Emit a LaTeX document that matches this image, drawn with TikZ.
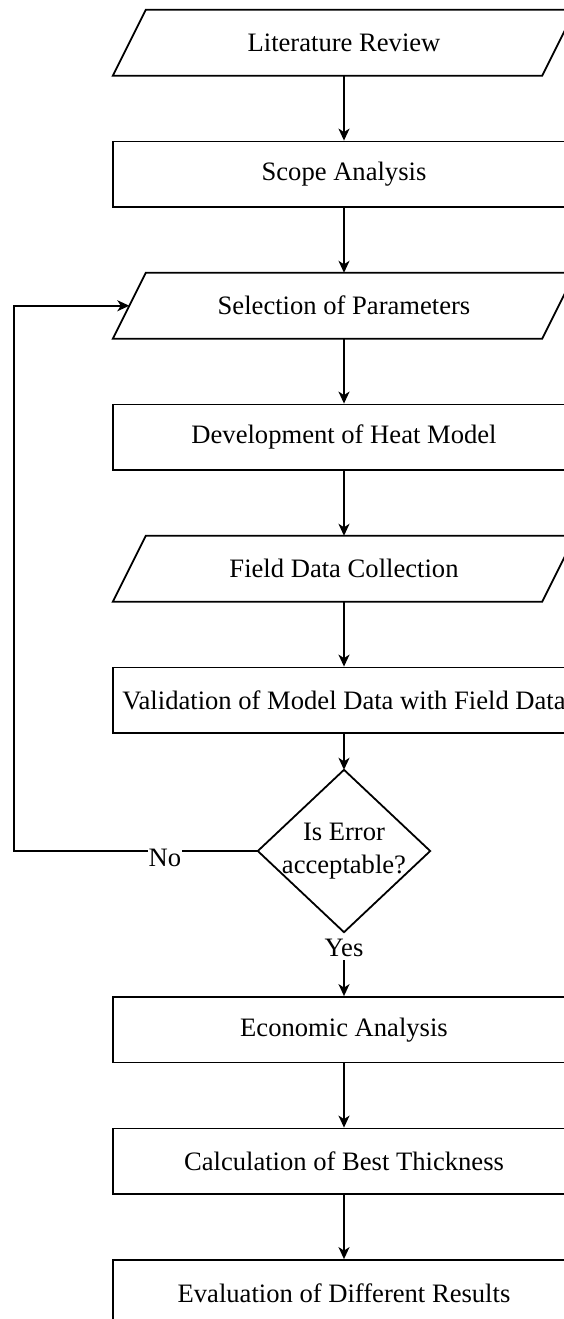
\documentclass[tikz,border=0pt]{standalone}
\usepackage{fontspec}
\setmainfont{Liberation Serif}
\usetikzlibrary{arrows.meta,calc}
\begin{document}
\begin{tikzpicture}[x=1pt,y=-1pt,
  txt/.style={font=\fontsize{26.6}{33}\selectfont},
  procbox/.style={txt,draw,line width=1.8pt,minimum width=462pt,minimum height=65.5pt,inner sep=0pt},
  iobox/.style={txt,minimum width=462pt,minimum height=65.5pt,inner sep=0pt},
  decbox/.style={txt,align=center,minimum width=172pt,minimum height=162pt,inner sep=0pt},
  shapeline/.style={line width=1.8pt,line join=miter},
  conn/.style={line width=1.8pt,-{Stealth[length=12pt,width=11pt,inset=3.5pt]}},
  lbl/.style={txt,fill=white,inner sep=1pt}
]
\useasboundingbox (0,0) rectangle (564,1319);
\clip (0,0) rectangle (564,1319);

\node[iobox]   (lit)   at (344,42.75)  {Literature Review};
\node[procbox] (scope) at (344,174.25) {Scope Analysis};
\node[iobox]   (sel)   at (344,305.75) {Selection of Parameters};
\node[procbox] (dev)   at (344,437.25) {Development of Heat Model};
\node[iobox]   (field) at (344,568.75) {Field Data Collection};
\node[procbox] (val)   at (344,700.25) {Validation of Model Data with Field Data};
\node[decbox]  (dec)   at (344,851)    {Is Error\\acceptable?};
\node[txt,inner sep=3pt] (yes) at (344,948) {Yes};
\node[procbox] (eco)   at (344,1029.75) {Economic Analysis};
\node[procbox] (calc)  at (344,1161.25) {Calculation of Best Thickness};
\node[procbox] (eval)  at (344,1292.75) {Evaluation of Different Results};

% parallelograms
\foreach \n in {lit,sel,field}{
  \draw[shapeline] ([xshift=33pt]\n.north west) -- (\n.north east)
    -- ([xshift=-33pt]\n.south east) -- (\n.south west) -- cycle;
}
% diamond
\draw[shapeline] (dec.north) -- (dec.east) -- (dec.south) -- (dec.west) -- cycle;

% connectors
\draw[conn] (lit) -- (scope);
\draw[conn] (scope) -- (sel);
\draw[conn] (sel) -- (dev);
\draw[conn] (dev) -- (field);
\draw[conn] (field) -- (val);
\draw[conn] (val) -- (dec.north);
\draw[conn] (yes.south) -- (eco.north);
\draw[conn] (eco) -- (calc);
\draw[conn] (calc) -- (eval);

% feedback loop
\coordinate (selin) at ($(sel.south west)!0.5!([xshift=33pt]sel.north west)$);
\coordinate (fb) at (14,0);
\draw[conn] (dec.west) -| (fb |- selin) -- (selin);
\node[lbl] (no) at (165,858) {No};
\end{tikzpicture}
\end{document}
